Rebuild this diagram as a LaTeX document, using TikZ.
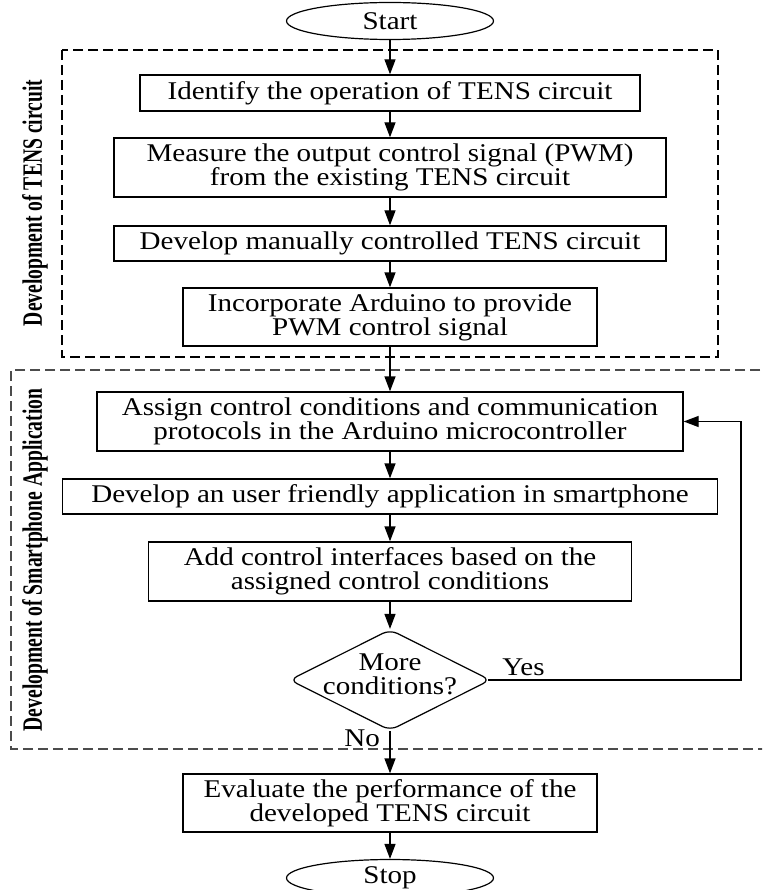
\documentclass[tikz,border=0pt]{standalone}
\usepackage{fontspec}
\setmainfont[FakeStretch=1.14]{Liberation Serif}
\newfontfamily\sidefont[FakeStretch=0.7]{Liberation Serif}
\usetikzlibrary{shapes.geometric,arrows.meta}

\begin{document}
\begin{tikzpicture}[x=1pt, y=-1pt,
    font=\fontsize{25.5}{24}\selectfont,
    process/.style={draw, line width=1.3pt, inner sep=0pt, align=center},
    terminal/.style={draw, ellipse, line width=1.2pt, minimum width=207pt, minimum height=37pt, inner sep=0pt},
    decision/.style={draw, diamond, rounded corners=8pt, line width=1.2pt, minimum width=201pt, minimum height=101pt, inner sep=0pt},
    flow/.style={-{Triangle[length=15pt,width=11pt]}, line width=1.3pt},
    phase/.style={dash pattern=on 10pt off 5pt, line width=1.2pt},
    side/.style={rotate=90, font=\sidefont\bfseries\fontsize{28}{30}\selectfont}]
  \clip (0,0) rectangle (762,890);

  % Draw the two phases as dashed frames
  \draw[phase] (62,50) rectangle (718,357);
  \draw[phase, black!70] (775,370) -- (11,370) -- (11,749) -- (775,749);
  \node[side] (tenslab) at (35,203) {Development of TENS circuit};
  \node[side] (applab) at (35,560) {Development of Smartphone Application};

  % Draw the steps down the middle
  \node[terminal] (start) at (390,21) {Start};
  \node[process, minimum width=500pt, minimum height=36pt] (identify) at (390,93) {Identify the operation of TENS circuit};
  \node[process, minimum width=552pt, minimum height=59pt] (measure) at (390,167.5) {Measure the output control signal (PWM)\\from the existing TENS circuit};
  \node[process, minimum width=552pt, minimum height=35pt] (manual) at (390,243.5) {Develop manually controlled TENS circuit};
  \node[process, minimum width=414pt, minimum height=58pt] (arduino) at (390,317) {Incorporate Arduino to provide\\PWM control signal};
  \node[process, minimum width=586pt, minimum height=59pt] (assign) at (390,421.5) {Assign control conditions and communication\\protocols in the Arduino microcontroller};
  \node[process, minimum width=655pt, minimum height=35pt] (app) at (390,496.5) {Develop an user friendly application in smartphone};
  \node[process, minimum width=483pt, minimum height=59pt] (interface) at (390,571.5) {Add control interfaces based on the\\assigned control conditions};
  \node[decision, label={[align=center, yshift=6pt]center:More\\conditions?}] (more) at (390,680) {};
  \node[process, minimum width=414pt, minimum height=58pt] (evaluate) at (390,803) {Evaluate the performance of the\\developed TENS circuit};
  \node[terminal] (stop) at (390,878) {Stop};

  % Draw the arrows
  \draw[flow] (start) -- (identify);
  \draw[flow] (identify) -- (measure);
  \draw[flow] (measure) -- (manual);
  \draw[flow] (manual) -- (arduino);
  \draw[flow] (arduino) -- (assign);
  \draw[flow] (assign) -- (app);
  \draw[flow] (app) -- (interface);
  \draw[flow] (interface) -- (more);
  \draw[flow] (more) -- node[left, pos=0.16, xshift=-6pt] {No} (evaluate);
  \draw[flow] (evaluate) -- (stop);
  \draw[flow] ([xshift=-3pt]more.east) -- node[above, pos=0.14] {Yes} ++(253,0) |- (assign.east);
\end{tikzpicture}
\end{document}
